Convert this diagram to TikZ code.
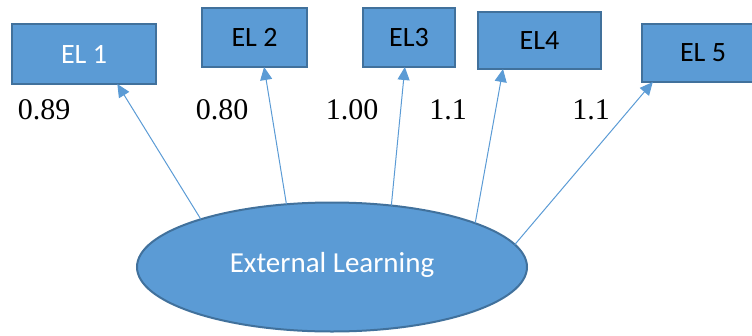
\documentclass[tikz,border=0pt]{standalone}
\usepackage{fontspec}
\setmainfont{Liberation Serif}
\newfontfamily\boxfont{Carlito}
\usetikzlibrary{shapes.geometric,arrows.meta}
\definecolor{fillblue}{HTML}{5B9BD5}
\definecolor{edgeblue}{HTML}{41719C}
\tikzset{
  itembox/.style={draw=edgeblue, fill=fillblue, line width=2pt, inner sep=0pt, outer sep=0pt,
    font=\boxfont\fontsize{28}{30}\selectfont},
  latent/.style={ellipse, draw=edgeblue, fill=fillblue, line width=2pt, inner sep=0pt, outer sep=0pt,
    minimum width=390pt, minimum height=129pt, text=white,
    font=\boxfont\fontsize{29}{32}\selectfont},
  loading/.style={font=\fontsize{30}{32}\selectfont, inner sep=0pt},
  path arrow/.style={draw=fillblue, line width=1pt, -{Triangle[length=13pt,width=12pt]}}
}
\begin{document}
\begin{tikzpicture}[x=1pt, y=-1pt]
\useasboundingbox (0,0) rectangle (752,335);
% indicator boxes
\node[itembox, minimum width=144pt, minimum height=60pt, text=white] (el1) at (84,54) {EL 1};
\node[itembox, minimum width=105pt, minimum height=59pt] (el2) at (254.5,37.5) {EL 2};
\node[itembox, minimum width=92pt, minimum height=59pt] (el3) at (409,37.5) {EL3};
\node[itembox, minimum width=123pt, minimum height=57pt] (el4) at (539.5,40.5) {EL4};
\node[itembox, minimum width=122pt, minimum height=58pt] (el5) at (703,53) {EL 5};
% latent factor
\node[latent] (fac) at (332,267) {\raisebox{9pt}{External Learning}};
% loadings
\node[loading] (l1) at (44,110) {0.89};
\node[loading] (l2) at (222,110) {0.80};
\node[loading] (l3) at (352,110) {1.00};
\node[loading] (l4) at (448,110) {1.1};
\node[loading] (l5) at (591,110) {1.1};
% paths from factor to indicators
\draw[path arrow] (fac.160) -- (el1.-42);
\draw[path arrow] (fac.126) -- (el2.-72);
\draw[path arrow] (fac.46) -- (el3.-98);
\draw[path arrow] (fac.17) -- (el4.-142);
\draw[path arrow] (fac.7) -- (el5.-150);
\end{tikzpicture}
\end{document}
